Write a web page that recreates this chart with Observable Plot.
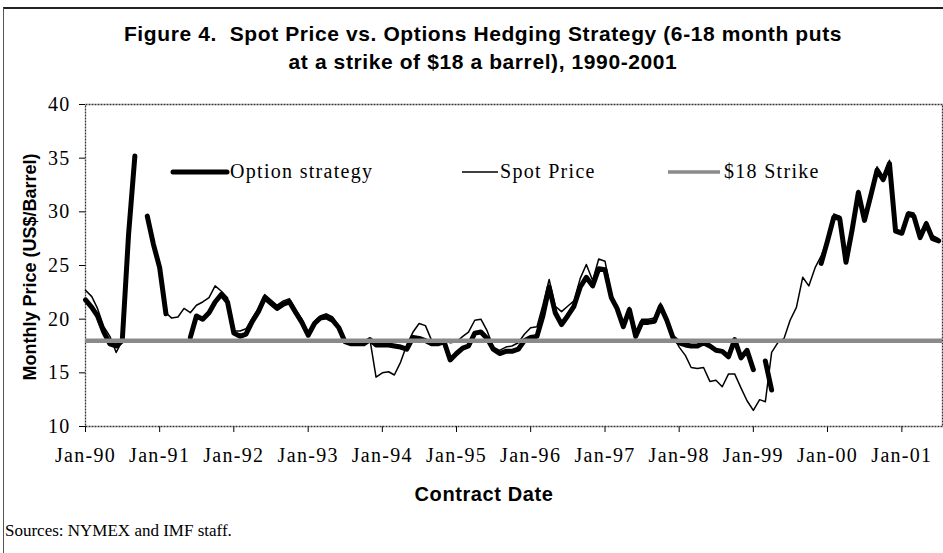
<!DOCTYPE html>
<html><head><meta charset="utf-8">
<script src="https://cdn.jsdelivr.net/npm/d3@7"></script>
<script src="https://cdn.jsdelivr.net/npm/@observablehq/plot@0.6"></script>
<style>
body{margin:0;background:#fff;}
#fig{position:relative;width:943px;height:553px;overflow:hidden;background:#fff;}
#border{position:absolute;left:3px;top:7px;width:1200px;height:800px;border-top:2px solid #222;border-left:1.5px solid #555;}
#title{position:absolute;left:0;top:20px;width:966px;text-align:center;font-family:"Liberation Sans",Arial,sans-serif;font-weight:bold;font-size:21px;letter-spacing:0.6px;line-height:28px;color:#000;}
#chart{position:absolute;left:0;top:80px;}
#ylabel{position:absolute;left:30px;top:267px;transform:translate(-50%,-50%) rotate(-90deg);white-space:nowrap;font-family:"Liberation Sans",Arial,sans-serif;font-weight:bold;font-size:18px;color:#000;}
#xlabel{position:absolute;left:0;width:968px;top:483px;text-align:center;font-family:"Liberation Sans",Arial,sans-serif;font-weight:bold;font-size:20px;letter-spacing:0.6px;color:#000;}
#source{position:absolute;left:5px;top:521px;font-family:"Liberation Serif","Times New Roman",serif;font-size:17px;color:#000;}
.lg{position:absolute;top:159px;font-family:"Liberation Serif","Times New Roman",serif;font-size:20px;letter-spacing:1.3px;line-height:24px;color:#000;white-space:nowrap;}
.sw{position:absolute;top:161px;}
</style></head><body>
<div id="fig">
  <div id="border"></div>
  <div id="title">Figure 4.&nbsp; Spot Price vs. Options Hedging Strategy (6-18 month puts<br>at a strike of $18 a barrel), 1990-2001</div>
  <div id="chart"></div>
  <div id="ylabel">Monthly Price (US$/Barrel)</div>
  <svg class="sw" style="left:168px" width="64" height="22"><line x1="5" y1="11" x2="59" y2="11" stroke="#000" stroke-width="5" stroke-linecap="round"/></svg>
  <div class="lg" style="left:230px">Option strategy</div>
  <svg class="sw" style="left:460px" width="40" height="22"><line x1="2" y1="11" x2="38" y2="11" stroke="#000" stroke-width="1.5"/></svg>
  <div class="lg" style="left:500px">Spot Price</div>
  <svg class="sw" style="left:666px" width="56" height="22"><line x1="2" y1="11" x2="54" y2="11" stroke="#8a8a8a" stroke-width="3.5"/></svg>
  <div class="lg" style="left:724px">$18 Strike</div>
  <div id="xlabel">Contract Date</div>
  <div id="source">Sources: NYMEX and IMF staff.</div>
</div>
<script>
// Monthly values, Jan-1990 .. Jul-2001 (null = no value plotted)
const spotPrice = [
  22.7, 22.1, 21.0, 19.3, 18.4, 16.9, 18.0, 27.9, 35.2, null, 29.6, 27.0,   // 1990
  24.9, 20.6, 20.1, 20.2, 21.0, 20.6, 21.3, 21.6, 22.0, 23.1, 22.6, 22.0,   // 1991
  18.9, 18.9, 19.1, 20.1, 21.0, 22.3, 21.8, 21.3, 21.7, 21.9, 20.9, 20.0,   // 1992
  18.7, 19.8, 20.3, 20.5, 20.2, 19.4, 18.0, 17.9, 17.8, 17.8, 18.1, 14.6,   // 1993
  15.0, 15.1, 14.8, 16.0, 17.6, 18.8, 19.6, 19.4, 18.0, 17.7, 18.1, 17.8,   // 1994
  17.9, 18.4, 18.8, 19.9, 20.0, 18.9, 17.4, 17.1, 17.4, 17.5, 17.8, 18.6,   // 1995
  19.2, 19.3, 21.3, 23.7, 21.2, 20.7, 21.2, 21.7, 23.8, 25.1, 23.6, 25.6,   // 1996
  25.4, 22.3, 21.2, 19.6, 21.1, 18.7, 20.0, 20.0, 20.1, 21.5, 20.2, 18.5,   // 1997
  17.4, 16.6, 15.5, 15.4, 15.5, 14.2, 14.3, 13.7, 14.9, 14.9, 13.6, 12.4,   // 1998
  11.5, 12.5, 12.3, 16.9, 17.8, 18.2, 19.9, 21.1, 23.9, 23.1, 24.8, 25.9,   // 1999
  27.3, 29.8, 29.6, 25.6, 28.6, 32.0, 29.5, 31.7, 34.2, 33.2, 34.8, 28.4,   // 2000
  28.2, 30.0, 29.9, 27.8, 29.1, 27.8, 27.5                                  // 2001
];
const optionStrategy = [
  21.8, 21.1, 20.3, 18.8, 17.7, 17.5, 18.0, 27.9, 35.2, null, 29.6, 27.0,   // 1990
  24.8, 20.5, null, null, null, 18.3, 20.3, 20.0, 20.6, 21.6, 22.3, 21.6,   // 1991
  18.7, 18.4, 18.6, 19.8, 20.7, 22.0, 21.5, 21.0, 21.4, 21.6, 20.6, 19.7,   // 1992
  18.5, 19.6, 20.1, 20.2, 19.9, 19.2, 17.9, 17.7, 17.7, 17.7, 18.1, 17.6,   // 1993
  17.6, 17.6, 17.5, 17.4, 17.2, 18.3, 18.2, 18.0, 17.7, 17.7, 17.9, 16.2,   // 1994
  16.8, 17.3, 17.5, 18.7, 18.8, 18.2, 17.2, 16.8, 17.0, 17.0, 17.2, 18.0,   // 1995
  18.3, 18.4, 20.3, 23.0, 20.6, 19.5, 20.3, 21.2, 23.0, 23.9, 23.1, 24.7,   // 1996
  24.6, 22.0, 21.0, 19.3, 20.9, 18.4, 19.7, 19.7, 19.8, 21.2, 19.9, 18.3,   // 1997
  17.8, 17.6, 17.5, 17.5, 17.8, 17.5, 17.1, 17.0, 16.5, 18.1, 16.4, 17.1,   // 1998
  15.3, null, 16.1, 13.4, null, null, null, null, null, null, null, 25.2,   // 1999
  27.3, 29.5, 29.4, 25.3, 28.3, 31.8, 29.2, 31.5, 33.9, 33.0, 34.5, 28.2,   // 2000
  28.0, 29.8, 29.6, 27.6, 28.9, 27.5, 27.3                                  // 2001
];
const strikePrice = [18];
const tickLabels = ["Jan-90","Jan-91","Jan-92","Jan-93","Jan-94","Jan-95","Jan-96","Jan-97","Jan-98","Jan-99","Jan-00","Jan-01"];
const yTicks = [10, 15, 20, 25, 30, 35, 40];

const tickDates = tickLabels.map((_, i) => new Date(Date.UTC(1990 + i, 0, 1)));
const table = spotPrice.map((s, i) => ({date: new Date(Date.UTC(1990, i, 1)), spot: s, option: optionStrategy[i]}));

const chart = Plot.plot({
  width: 943, height: 400,
  marginTop: 24, marginBottom: 54, marginLeft: 85, marginRight: 1,
  style: {fontFamily: "'Liberation Serif','Times New Roman',serif", fontSize: "20px", letterSpacing: "1.3px", color: "#000", background: "transparent", overflow: "visible"},
  x: {type: "utc", domain: [new Date(Date.UTC(1990, 0, 1)), new Date(Date.UTC(2001, 6, 20))]},
  y: {domain: [10, 40]},
  marks: [
    Plot.axisX(tickDates, {tickSize: 6, tickPadding: 15, label: null,
      tickFormat: d => tickLabels[tickDates.findIndex(t => +t === +d)]}),
    Plot.axisY(yTicks, {tickSize: 6, tickPadding: 9, label: null}),
    Plot.frame({stroke: "#333", strokeWidth: 1.3, strokeDasharray: "2,1"}),
    Plot.lineY(table, {x: "date", y: "option", stroke: "#000", strokeWidth: 5, strokeLinejoin: "round", strokeLinecap: "round"}),
    Plot.lineY(table, {x: "date", y: "spot", stroke: "#000", strokeWidth: 1.5, strokeLinejoin: "round"}),
    Plot.ruleY(strikePrice, {stroke: "#8a8a8a", strokeWidth: 4.5})
  ]
});
document.getElementById("chart").appendChild(chart);
</script>
</body></html>
